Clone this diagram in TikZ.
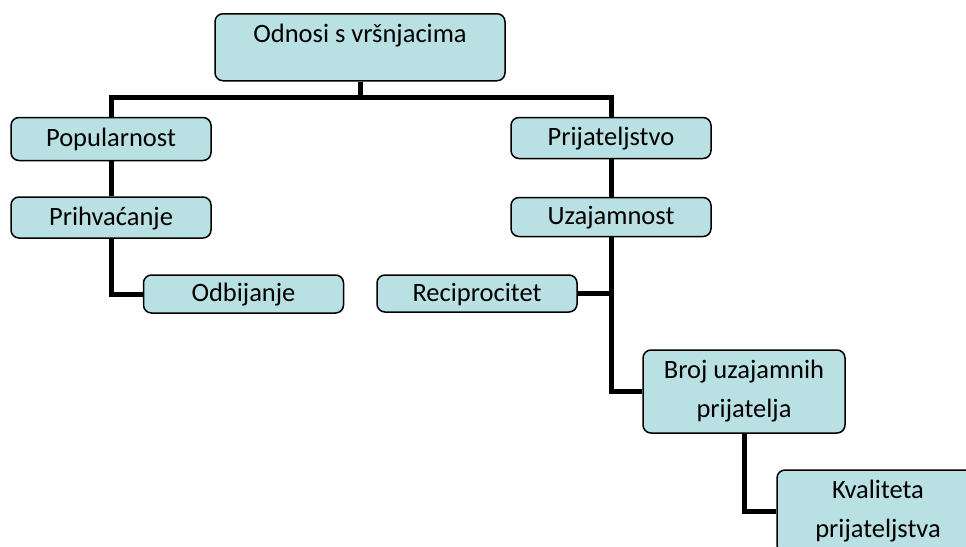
\documentclass[tikz,border=0pt]{standalone}
\usepackage{fontspec}
\setmainfont{Carlito}
\usetikzlibrary{backgrounds}
\definecolor{boxfill}{RGB}{185,224,227}
\tikzset{
  box/.style={draw=black, line width=1.5pt, fill=boxfill, rounded corners=8pt,
    minimum width=200pt, inner sep=0pt, align=center,
    font=\fontsize{26.5}{39}\selectfont},
  single/.style={box, text height=19pt, text depth=4pt},
  link/.style={draw=black, line width=5pt}
}
\begin{document}
\begin{tikzpicture}[x=1pt,y=-1pt]
\clip (0,0) rectangle (966,546);
\node[box, minimum width=290pt, anchor=north, text height=29pt, text depth=38pt] (top) at (360,13) {Odnosi s vršnjacima};
\node[single, minimum height=43pt] (pop) at (111,139) {Popularnost};
\node[single, minimum height=41pt] (prih) at (111,217.5) {Prihvaćanje};
\node[single, minimum height=38pt] (odb) at (243.5,294) {Odbijanje};
\node[single, minimum height=41pt] (prij) at (611,138) {Prijateljstvo};
\node[single, minimum height=39pt] (uza) at (611,217) {Uzajamnost};
\node[single, minimum height=37pt] (rec) at (477,293.5) {Reciprocitet};
\node[box, minimum width=202pt, minimum height=83pt] (broj) at (744,391.5) {Broj uzajamnih\\prijatelja};
\node[box, minimum width=202pt, minimum height=83pt] (kval) at (878,511.5) {Kvaliteta\\prijateljstva};
\coordinate (bus) at (360,97);
\begin{scope}[on background layer]
\draw[link] (top.south) -- (bus);
\draw[link] (pop.north) |- (bus) -| (prij.north);
\draw[link] (pop.south) -- (prih.north);
\draw[link] (prih.south) |- (odb.west);
\draw[link] (prij.south) -- (uza.north);
\draw[link] (uza.south) |- (broj.west);
\draw[link] (rec.east) -- (uza.south |- rec.east);
\draw[link] (broj.south) |- (kval.west);
\end{scope}
\end{tikzpicture}
\end{document}
